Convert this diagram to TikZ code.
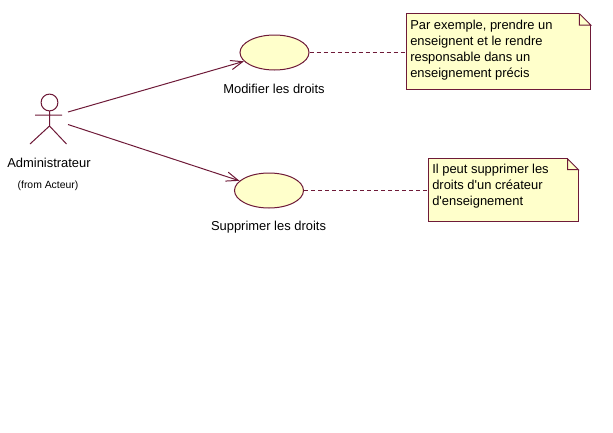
\documentclass[tikz,border=0pt]{standalone}
\usepackage{fontspec}
\setmainfont{Liberation Sans}
\usetikzlibrary{shapes.geometric,arrows.meta,calc}
\definecolor{umlline}{HTML}{6E1A38}
\definecolor{umlfill}{HTML}{FFFFCB}
\tikzset{
  usecase/.style={ellipse,draw=umlline,fill=umlfill,line width=0.75pt,minimum width=51.75pt,minimum height=26.25pt,inner sep=0pt},
  notebox/.style={rectangle,fill=umlfill,inner sep=0pt},
  notetext/.style={anchor=north west,align=left,inner sep=0pt,font=\fontsize{9.7}{12}\selectfont},
  caption/.style={inner sep=0pt,font=\fontsize{9.7}{11}\selectfont},
  umlwire/.style={draw=umlline,line width=0.75pt},
  assoc/.style={umlwire,-{Straight Barb[length=9pt,width=7pt]}},
  notelink/.style={umlwire,dashed,dash pattern=on 3pt off 2.25pt}
}
% folded corner of a note: node name, size of the fold
\newcommand{\notefold}[2]{
  \fill[white] ($(#1.north east)-(#2,0)$) -- (#1.north east) -- ($(#1.north east)-(0,#2)$) -- cycle;
  \draw[umlwire] ($(#1.north east)-(#2,0)$) -- ($(#1.north east)-(0,#2)$) -- ++(-#2,0) -- ++(0,#2);
  \draw[umlwire] ($(#1.north east)-(#2,0)$) -- (#1.north west) -- (#1.south west) -- (#1.south east) -- ($(#1.north east)-(0,#2)$);
}
\begin{document}
\begin{tikzpicture}[x=0.75pt,y=-0.75pt]
  \useasboundingbox (0,0) rectangle (613,432);
  % actor
  \coordinate (head) at (49.5,102.5);
  \coordinate (neck) at (49.5,111);
  \coordinate (hip) at (49.5,126);
  \coordinate (armL) at (35,115);
  \coordinate (armR) at (62,115);
  \coordinate (legL) at (30,144);
  \coordinate (legR) at (66.5,144);
  \coordinate (actorA) at (68,112);
  \coordinate (actorB) at (68,124.5);
  \draw[umlwire] (head) circle[radius=6.3pt];
  \draw[umlwire] (neck) -- (hip) (armL) -- (armR) (legL) -- (hip) -- (legR);
  \node[caption] (admin) at (49,163) {Administrateur};
  \node[caption,font=\fontsize{7.8}{9}\selectfont] (from) at (48,186) {(from Acteur)};
  % use cases
  \node[usecase] (modif) at (274.5,52.5) {};
  \node[usecase] (suppr) at (269,190.5) {};
  \node[caption] (modiflabel) at (274,88.5) {Modifier les droits};
  \node[caption] (supprlabel) at (268.5,227.5) {Supprimer les droits};
  % notes
  \node[notebox,minimum width=138pt,minimum height=56.25pt] (note1) at (498.5,51.5) {};
  \node[notebox,minimum width=111.75pt,minimum height=46.5pt] (note2) at (503.75,190) {};
  \notefold{note1}{8.5pt}
  \notefold{note2}{8.25pt}
  \node[notetext] (text1) at (410,20) {Par exemple, prendre un\\enseignent et le rendre\\responsable dans un\\enseignement précis};
  \node[notetext] (text2) at (432,164) {Il peut supprimer les\\droits d\textquotesingle un créateur\\d\textquotesingle enseignement};
  % connectors
  \draw[assoc] (actorA) -- (modif);
  \draw[assoc] (actorB) -- (suppr);
  \draw[notelink] (modif.east) -- (modif.east -| note1.west);
  \draw[notelink] (suppr.east) -- (suppr.east -| note2.west);
\end{tikzpicture}
\end{document}
